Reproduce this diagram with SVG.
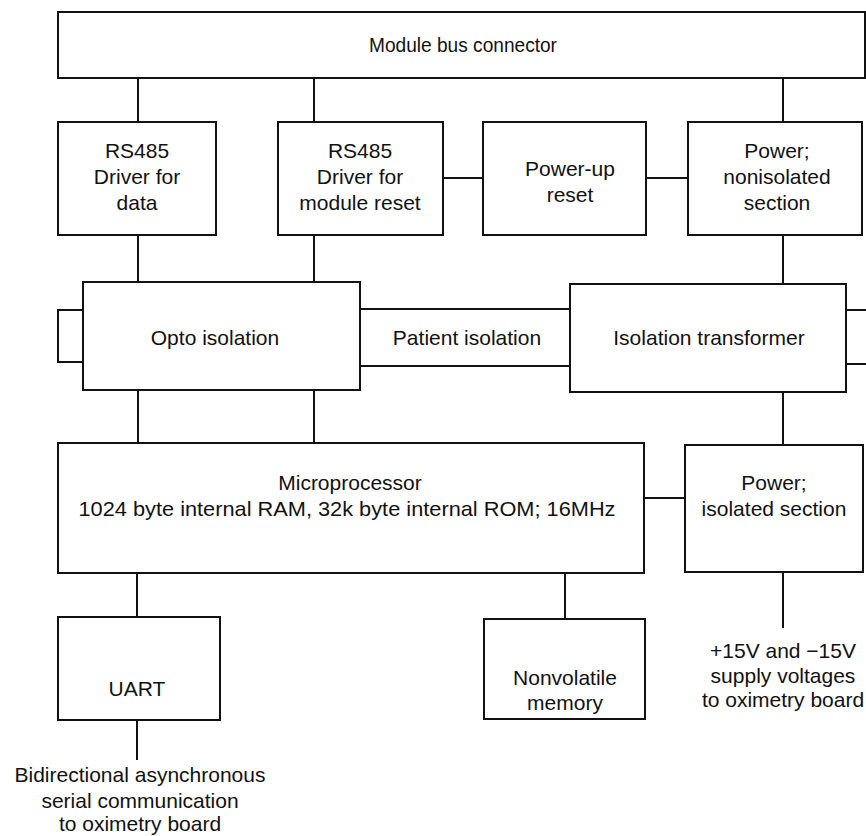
<svg xmlns="http://www.w3.org/2000/svg" width="866" height="836" viewBox="0 0 866 836">
<style>
rect{fill:#fff;stroke:#111;stroke-width:2}
line,path{stroke:#111;stroke-width:2;fill:none}
text{font-family:"Liberation Sans",Arial,sans-serif;font-size:21px;fill:#111;text-anchor:middle}
</style>
<rect x="0" y="0" width="866" height="836" style="stroke:none"/>
<g id="connectors">
<line x1="138" y1="78" x2="138" y2="122"/>
<line x1="314" y1="78" x2="314" y2="122"/>
<line x1="783" y1="78" x2="783" y2="122"/>
<line x1="443" y1="178" x2="483" y2="178"/>
<line x1="646" y1="178" x2="688" y2="178"/>
<line x1="138" y1="235" x2="138" y2="282"/>
<line x1="314" y1="235" x2="314" y2="282"/>
<line x1="783" y1="235" x2="783" y2="284"/>
<path d="M83 310 H58 V362 H83"/>
<line x1="360" y1="309" x2="570" y2="309"/>
<line x1="360" y1="366" x2="570" y2="366"/>
<line x1="846" y1="310" x2="866" y2="310"/>
<line x1="846" y1="364" x2="866" y2="364"/>
<line x1="138" y1="390" x2="138" y2="443"/>
<line x1="314" y1="390" x2="314" y2="443"/>
<line x1="783" y1="392" x2="783" y2="445"/>
<line x1="644" y1="498" x2="685" y2="498"/>
<line x1="137" y1="573" x2="137" y2="617"/>
<line x1="565" y1="573" x2="565" y2="619"/>
<line x1="783" y1="572" x2="783" y2="628"/>
<line x1="137" y1="720" x2="137" y2="760"/>
</g>
<g id="bus"><rect x="58" y="12" width="807" height="66"/><text x="463" y="52" textLength="188" lengthAdjust="spacingAndGlyphs">Module bus connector</text></g>
<g id="rs485data"><rect x="58" y="122" width="158" height="113"/><text x="137" y="158">RS485</text><text x="137" y="184">Driver for</text><text x="137" y="210">data</text></g>
<g id="rs485reset"><rect x="278" y="122" width="165" height="113"/><text x="360" y="158">RS485</text><text x="360" y="184">Driver for</text><text x="360" y="210">module reset</text></g>
<g id="powerup"><rect x="483" y="122" width="163" height="113"/><text x="570" y="176">Power-up</text><text x="570" y="202">reset</text></g>
<g id="powernoniso"><rect x="688" y="122" width="174" height="113"/><text x="777" y="158">Power;</text><text x="777" y="184">nonisolated</text><text x="777" y="210">section</text></g>
<g id="opto"><rect x="83" y="282" width="277" height="108"/><text x="215" y="345">Opto isolation</text></g>
<g id="patient"><text x="467" y="345">Patient isolation</text></g>
<g id="isotrans"><rect x="570" y="284" width="276" height="108"/><text x="709" y="345">Isolation transformer</text></g>
<g id="micro"><rect x="58" y="443" width="586" height="130"/><text x="350" y="490">Microprocessor</text><text x="347" y="516" textLength="537" lengthAdjust="spacingAndGlyphs">1024 byte internal RAM, 32k byte internal ROM; 16MHz</text></g>
<g id="poweriso"><rect x="685" y="445" width="178" height="127"/><text x="774" y="490">Power;</text><text x="774" y="516">isolated section</text></g>
<g id="uart"><rect x="58" y="617" width="162" height="103"/><text x="137" y="696">UART</text></g>
<g id="nvmem"><rect x="484" y="619" width="161" height="100"/><text x="565" y="685">Nonvolatile</text><text x="565" y="710">memory</text></g>
<g id="supply"><text x="783" y="658">+15V and −15V</text><text x="783" y="683">supply voltages</text><text x="783" y="707">to oximetry board</text></g>
<g id="serial"><text x="140" y="782">Bidirectional asynchronous</text><text x="140" y="808">serial communication</text><text x="140" y="831">to oximetry board</text></g>
</svg>
